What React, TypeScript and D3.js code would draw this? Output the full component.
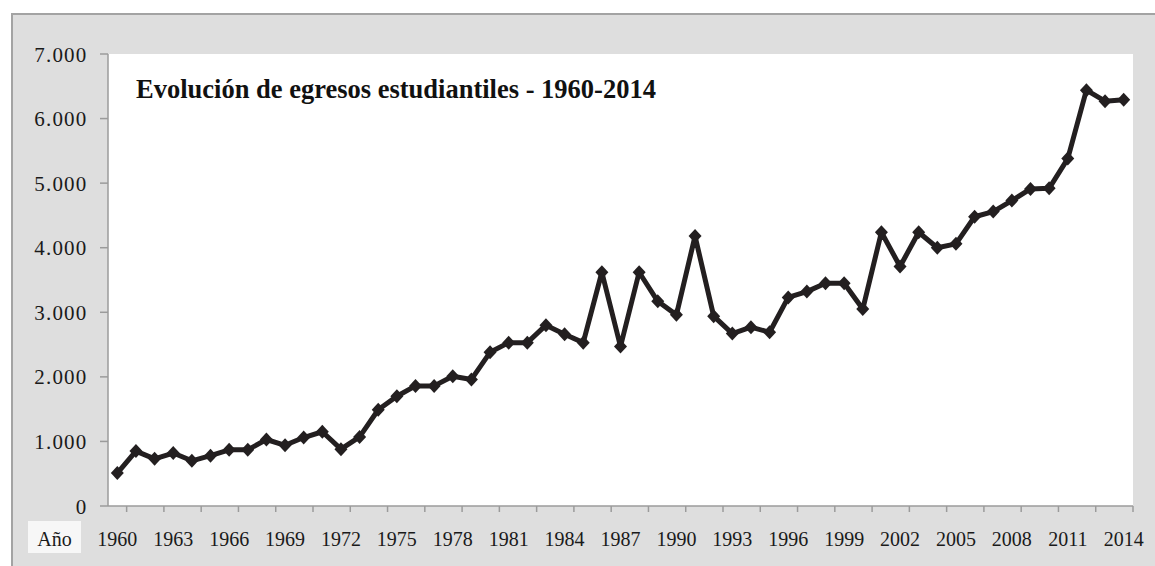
import React, { useEffect, useRef } from "react";
import * as d3 from "d3";

const years: number[] = d3.range(1960, 2015);
const egresos: number[] = [
  510, 850, 730, 820, 700, 780, 870, 870, 1030, 940,
  1060, 1150, 880, 1070, 1490, 1700, 1860, 1860, 2010, 1960,
  2380, 2530, 2530, 2800, 2660, 2530, 3620, 2470, 3620, 3170,
  2960, 4180, 2940, 2670, 2770, 2690, 3230, 3320, 3450, 3450,
  3050, 4240, 3710, 4240, 4000, 4060, 4480, 4560, 4730, 4910,
  4920, 5380, 6440, 6270, 6290,
];
const yTicks: number[] = [0, 1000, 2000, 3000, 4000, 5000, 6000, 7000];
const title = "Evolución de egresos estudiantiles - 1960-2014";
const axisName = "Año";

const App = () => {
  const svgRef = useRef<SVGSVGElement>(null);

  useEffect(() => {
    const width = 1155;
    const height = 566;
    const plot = { left: 108, right: 1133, top: 54, bottom: 506 };
    const font = "'Liberation Serif', 'Times New Roman', serif";

    const svg = d3.select(svgRef.current);
    svg.selectAll("*").remove();
    svg.attr("width", width).attr("height", height);

    // fondo y marco
    svg.append("rect").attr("width", width).attr("height", height).attr("fill", "#fff");
    svg
      .append("rect")
      .attr("x", 12)
      .attr("y", 14)
      .attr("width", width + 10)
      .attr("height", height + 10)
      .attr("fill", "#dedede")
      .attr("stroke", "#a3a3a3")
      .attr("stroke-width", 2);

    svg
      .append("rect")
      .attr("x", plot.left)
      .attr("y", plot.top)
      .attr("width", plot.right - plot.left)
      .attr("height", plot.bottom - plot.top)
      .attr("fill", "#fff");

    const x = d3
      .scaleBand<number>()
      .domain(years)
      .range([plot.left, plot.right])
      .padding(0);

    const y = d3
      .scaleLinear()
      .domain([0, 7000])
      .range([plot.bottom, plot.top]);

    const fmt = (v: number) => d3.format(",")(v).replace(/,/g, ".");

    // eje Y
    const gy = svg.append("g");
    gy.append("line")
      .attr("x1", plot.left)
      .attr("x2", plot.left)
      .attr("y1", plot.top)
      .attr("y2", plot.bottom)
      .attr("stroke", "#9b9b9b")
      .attr("stroke-width", 1.5);
    gy.selectAll("line.tick")
      .data(yTicks)
      .join("line")
      .attr("class", "tick")
      .attr("x1", plot.left - 8)
      .attr("x2", plot.left)
      .attr("y1", (d) => y(d))
      .attr("y2", (d) => y(d))
      .attr("stroke", "#9b9b9b")
      .attr("stroke-width", 1.5);
    gy.selectAll("text")
      .data(yTicks)
      .join("text")
      .attr("x", 87.5)
      .attr("y", (d) => y(d) + 7.5)
      .attr("text-anchor", "end")
      .attr("font-family", font)
      .attr("font-size", 21)
      .attr("letter-spacing", 1.2)
      .attr("fill", "#1a1a1a")
      .text((d) => fmt(d));

    // eje X
    const gx = svg.append("g");
    gx.append("line")
      .attr("x1", plot.left)
      .attr("x2", plot.right)
      .attr("y1", plot.bottom)
      .attr("y2", plot.bottom)
      .attr("stroke", "#9b9b9b")
      .attr("stroke-width", 1.5);
    const tickIdx = d3.range(1, years.length + 1, 2);
    gx.selectAll("line.tick")
      .data(tickIdx)
      .join("line")
      .attr("class", "tick")
      .attr("x1", (i) => (i < years.length ? (x(years[i]) as number) : plot.right))
      .attr("x2", (i) => (i < years.length ? (x(years[i]) as number) : plot.right))
      .attr("y1", plot.bottom)
      .attr("y2", plot.bottom + 6)
      .attr("stroke", "#9b9b9b")
      .attr("stroke-width", 1.5);
    gx.selectAll("text")
      .data(years.filter((_, i) => i % 3 === 0))
      .join("text")
      .attr("x", (d) => (x(d) as number) + x.bandwidth() / 2)
      .attr("y", 545.5)
      .attr("text-anchor", "middle")
      .attr("font-family", font)
      .attr("font-size", 20)
      .attr("fill", "#1a1a1a")
      .text((d) => d);

    // etiqueta "Año"
    svg
      .append("rect")
      .attr("x", 28)
      .attr("y", 521)
      .attr("width", 53)
      .attr("height", 32)
      .attr("fill", "#f7f7f7");
    svg
      .append("text")
      .attr("x", 54.5)
      .attr("y", 545.5)
      .attr("text-anchor", "middle")
      .attr("font-family", font)
      .attr("font-size", 20)
      .attr("fill", "#1a1a1a")
      .text(axisName);

    // serie
    const pts: [number, number][] = egresos.map((v, i) => [
      (x(years[i]) as number) + x.bandwidth() / 2,
      y(v),
    ]);
    svg
      .append("path")
      .attr("d", d3.line()(pts))
      .attr("fill", "none")
      .attr("stroke", "#231f20")
      .attr("stroke-width", 5)
      .attr("stroke-linejoin", "round");
    svg
      .append("g")
      .selectAll("path")
      .data(pts)
      .join("path")
      .attr("transform", (d) => `translate(${d[0]},${d[1]})`)
      .attr("d", "M0,-7L6.5,0L0,7L-6.5,0Z")
      .attr("fill", "#231f20");

    // título
    svg
      .append("text")
      .attr("x", 136)
      .attr("y", 98)
      .attr("font-family", font)
      .attr("font-weight", "bold")
      .attr("font-size", 26.5)
      .attr("fill", "#111")
      .text(title);
  }, []);

  return (
    <svg
      ref={svgRef}
      style={{ position: "absolute", left: 0, top: 0, display: "block" }}
    ></svg>
  );
};

export default App;
